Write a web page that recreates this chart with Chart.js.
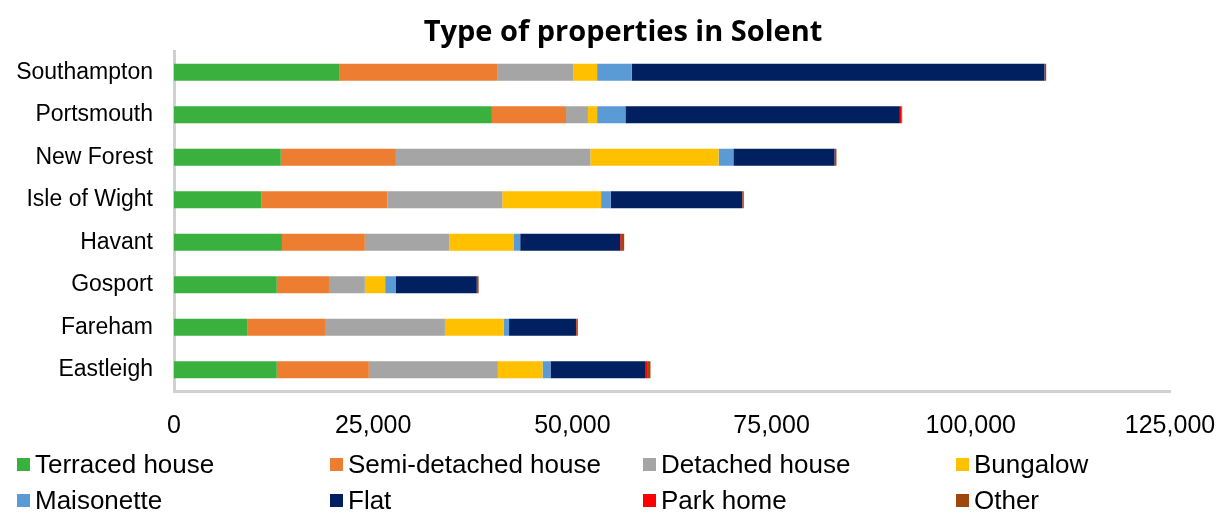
<!DOCTYPE html>
<html>
<head>
<meta charset="utf-8">
<script src="https://cdn.jsdelivr.net/npm/chart.js@4/dist/chart.umd.min.js"></script>
<style>
  html, body { margin: 0; padding: 0; background: #fff; }
  #wrap { position: relative; width: 1225px; height: 512px; }
  #title { position: absolute; left: 0; top: 11px; width: 1246px; text-align: center; font-family: "Open Sans", sans-serif; font-weight: bold; font-size: 29px; line-height: 38px; color: #000; }
  #legend { position: absolute; left: 0; top: 446px; width: 1225px; font-family: "Liberation Sans", Arial, sans-serif; font-size: 26px; color: #000; }
  .item { position: absolute; display: flex; align-items: center; height: 36px; white-space: nowrap; }
  .box { width: 13px; height: 13px; margin-right: 5px; }
</style>
</head>
<body>
<div id="wrap">
  <canvas id="propChart" width="1225" height="512"></canvas>
  <div id="title">Type of properties in Solent</div>
  <div id="legend"></div>
</div>
<script>
const areas = ['Southampton', 'Portsmouth', 'New Forest', 'Isle of Wight', 'Havant', 'Gosport', 'Fareham', 'Eastleigh'];

const terraced    = [20800, 39900, 13400, 11000, 13550, 12900,  9250, 12900];
const semiDet     = [19750,  9300, 14450, 15800, 10400,  6550,  9700, 11550];
const detached    = [ 9550,  2750, 24400, 14400, 10600,  4500, 15050, 16200];
const bungalow    = [ 3000,  1150, 16100, 12400,  8050,  2550,  7400,  5600];
const maisonette  = [ 4350,  3550,  1850,  1200,   850,  1300,   650,  1000];
const flat        = [51800, 34450, 12700, 16500, 12550, 10200,  8400, 11950];
const parkHome    = [   30,   210,    40,    30,   210,    30,    30,   170];
const other       = [  180,    80,   200,   180,   290,   200,   200,   430];

const xTicks = [0, 25000, 50000, 75000, 100000, 125000];

const series = [
    { label: 'Terraced house', data: terraced, color: '#3AB13F' },
    { label: 'Semi-detached house', data: semiDet, color: '#ED7D31' },
    { label: 'Detached house', data: detached, color: '#A5A5A5' },
    { label: 'Bungalow', data: bungalow, color: '#FFC000' },
    { label: 'Maisonette', data: maisonette, color: '#5B9BD5' },
    { label: 'Flat', data: flat, color: '#002060' },
    { label: 'Park home', data: parkHome, color: '#FF0000' },
    { label: 'Other', data: other, color: '#9E480E' }
];

const ctx = document.getElementById('propChart').getContext('2d');
const propChart = new Chart(ctx, {
    type: 'bar',
    data: {
        labels: areas,
        datasets: series.map(s => ({
            label: s.label,
            data: s.data,
            backgroundColor: s.color,
            borderWidth: 0,
            categoryPercentage: 0.8,
            barPercentage: 0.5
        }))
    },
    options: {
        indexAxis: 'y',
        responsive: false,
        animation: false,
        layout: { padding: { left: 0, right: 55, top: 51, bottom: 0 } },
        plugins: {
            legend: { display: false },
            tooltip: { enabled: false },
            title: { display: false }
        },
        scales: {
            x: {
                stacked: true,
                min: 0,
                max: 125000,
                afterBuildTicks: function(scale) {
                    scale.ticks = xTicks.map(v => ({ value: v }));
                },
                afterFit: function(scale) {
                    scale.height = 121;
                    scale.paddingRight = 0;
                },
                grid: { display: false, drawTicks: false },
                border: { display: true, color: '#d0d0d0', width: 3 },
                ticks: {
                    padding: 20,
                    color: '#000',
                    maxRotation: 0,
                    font: { family: '"Liberation Sans", Arial, sans-serif', size: 25 },
                    callback: function(v) { return v.toLocaleString('en-GB'); }
                }
            },
            y: {
                stacked: true,
                afterFit: function(scale) { scale.width = 174; },
                grid: { display: false, drawTicks: false },
                border: { display: true, color: '#d0d0d0', width: 3 },
                ticks: {
                    padding: 21,
                    color: '#000',
                    font: { family: '"Liberation Sans", Arial, sans-serif', size: 23 }
                }
            }
        }
    }
});

// legend laid out in a 4-column grid like the original
const legendEl = document.getElementById('legend');
series.forEach((s, i) => {
    const item = document.createElement('div');
    item.className = 'item';
    item.style.left = (17 + (i % 4) * 313) + 'px';
    item.style.top = (Math.floor(i / 4) * 36) + 'px';
    item.innerHTML = '<span class="box" style="background:' + s.color + '"></span><span>' + s.label + '</span>';
    legendEl.appendChild(item);
});
</script>
</body>
</html>
